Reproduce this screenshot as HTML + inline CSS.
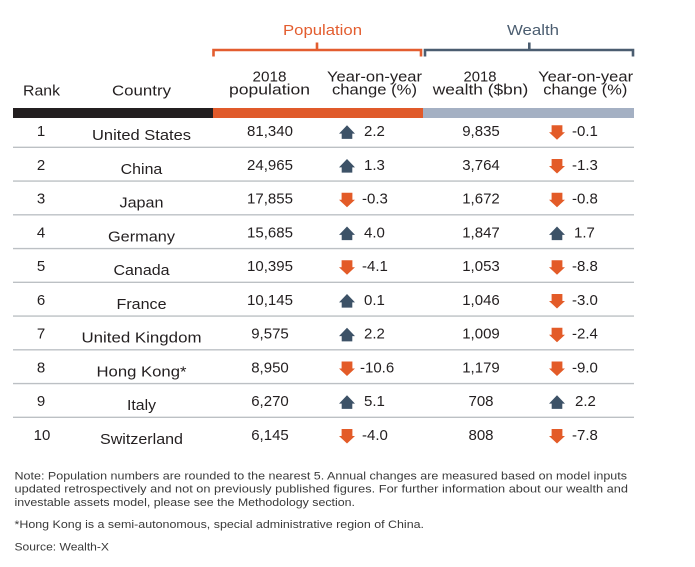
<!DOCTYPE html>
<html><head><meta charset="utf-8"><style>
html,body{margin:0;padding:0;background:#fff;}
svg{display:block;}
text{font-family:"Liberation Sans",Arial,sans-serif;}
.h{font-size:15px;fill:#231f20;}
.t{font-size:15px;fill:#231f20;}
.n{font-size:11px;fill:#3a3a3a;}
</style></head><body>
<svg width="695" height="567" viewBox="0 0 695 567" xmlns="http://www.w3.org/2000/svg">
<rect width="695" height="567" fill="#fff"/>
<!-- group labels -->
<text class="h" x="322.5" y="35" text-anchor="middle" textLength="79" lengthAdjust="spacingAndGlyphs" style="fill:#e35d2f">Population</text>
<text class="h" x="533" y="35" text-anchor="middle" textLength="52" lengthAdjust="spacingAndGlyphs" style="fill:#4b5d70">Wealth</text>
<!-- brackets -->
<path d="M213.5,56.5 V50 H421 V56.5 M317,50 V42.5" fill="none" stroke="#e35d2f" stroke-width="2.6"/>
<path d="M425,56.5 V50 H633 V56.5 M529.3,50 V42.5" fill="none" stroke="#4b5d70" stroke-width="2.6"/>
<!-- headers -->
<text class="h" x="41.5" y="95.3" text-anchor="middle" textLength="37" lengthAdjust="spacingAndGlyphs">Rank</text>
<text class="h" x="141.5" y="95.3" text-anchor="middle" textLength="59" lengthAdjust="spacingAndGlyphs">Country</text>
<text class="h" x="269.5" y="81.5" text-anchor="middle" textLength="34" lengthAdjust="spacingAndGlyphs">2018</text>
<text class="h" x="269.5" y="94.5" text-anchor="middle" textLength="81" lengthAdjust="spacingAndGlyphs">population</text>
<text class="h" x="374.5" y="81.5" text-anchor="middle" textLength="95" lengthAdjust="spacingAndGlyphs">Year-on-year</text>
<text class="h" x="374.5" y="94.5" text-anchor="middle" textLength="85" lengthAdjust="spacingAndGlyphs">change (%)</text>
<text class="h" x="480" y="81.5" text-anchor="middle" textLength="33" lengthAdjust="spacingAndGlyphs">2018</text>
<text class="h" x="480.5" y="94.5" text-anchor="middle" textLength="95.5" lengthAdjust="spacingAndGlyphs">wealth ($bn)</text>
<text class="h" x="585.6" y="81.5" text-anchor="middle" textLength="95" lengthAdjust="spacingAndGlyphs">Year-on-year</text>
<text class="h" x="585.3" y="94.5" text-anchor="middle" textLength="84" lengthAdjust="spacingAndGlyphs">change (%)</text>
<!-- header bar -->
<rect x="13" y="108" width="200" height="10" fill="#231f20"/>
<rect x="213" y="108" width="210" height="10" fill="#e05a2a"/>
<rect x="423" y="108" width="211" height="10" fill="#a4b0c3"/>
<!-- separators -->
<g stroke="#bcc0c4" stroke-width="1.3">
<line x1="13" x2="634" y1="147.3" y2="147.3"/>
<line x1="13" x2="634" y1="181.05" y2="181.05"/>
<line x1="13" x2="634" y1="214.8" y2="214.8"/>
<line x1="13" x2="634" y1="248.55" y2="248.55"/>
<line x1="13" x2="634" y1="282.3" y2="282.3"/>
<line x1="13" x2="634" y1="316.05" y2="316.05"/>
<line x1="13" x2="634" y1="349.8" y2="349.8"/>
<line x1="13" x2="634" y1="383.55" y2="383.55"/>
<line x1="13" x2="634" y1="417.3" y2="417.3"/>
</g>
<defs>
<path id="up" d="M0,-7 L8,1.3 L5.3,1.3 L5.3,6.6 L-5.3,6.6 L-5.3,1.3 L-8,1.3 Z" fill="#3d5267"/>
<path id="dn" d="M-5.4,-7 L5.4,-7 L5.4,0 L8,0 L0,7.5 L-8,0 L-5.4,0 Z" fill="#e35b28"/>
</defs>
<!-- rows -->
<g>
<g transform="translate(0,0)">
<text class="t" x="41" y="136.2" text-anchor="middle">1</text>
<text class="t" x="141.5" y="140" text-anchor="middle" textLength="99" lengthAdjust="spacingAndGlyphs">United States</text>
<text class="t" x="270" y="136.2" text-anchor="middle">81,340</text>
<use href="#up" x="347" y="132.3"/>
<text class="t" x="364" y="136.2">2.2</text>
<text class="t" x="481" y="136.2" text-anchor="middle">9,835</text>
<use href="#dn" x="557" y="132.3"/>
<text class="t" x="572" y="136.2">-0.1</text>
</g>
<g transform="translate(0,33.75)">
<text class="t" x="41" y="136.2" text-anchor="middle">2</text>
<text class="t" x="141.5" y="140" text-anchor="middle" textLength="41.6" lengthAdjust="spacingAndGlyphs">China</text>
<text class="t" x="270" y="136.2" text-anchor="middle">24,965</text>
<use href="#up" x="347" y="132.3"/>
<text class="t" x="364" y="136.2">1.3</text>
<text class="t" x="481" y="136.2" text-anchor="middle">3,764</text>
<use href="#dn" x="557" y="132.3"/>
<text class="t" x="572" y="136.2">-1.3</text>
</g>
<g transform="translate(0,67.5)">
<text class="t" x="41" y="136.2" text-anchor="middle">3</text>
<text class="t" x="141.5" y="140" text-anchor="middle" textLength="44" lengthAdjust="spacingAndGlyphs">Japan</text>
<text class="t" x="270" y="136.2" text-anchor="middle">17,855</text>
<use href="#dn" x="347" y="132.3"/>
<text class="t" x="362" y="136.2">-0.3</text>
<text class="t" x="481" y="136.2" text-anchor="middle">1,672</text>
<use href="#dn" x="557" y="132.3"/>
<text class="t" x="572" y="136.2">-0.8</text>
</g>
<g transform="translate(0,101.25)">
<text class="t" x="41" y="136.2" text-anchor="middle">4</text>
<text class="t" x="141.5" y="140" text-anchor="middle" textLength="67" lengthAdjust="spacingAndGlyphs">Germany</text>
<text class="t" x="270" y="136.2" text-anchor="middle">15,685</text>
<use href="#up" x="347" y="132.3"/>
<text class="t" x="364" y="136.2">4.0</text>
<text class="t" x="481" y="136.2" text-anchor="middle">1,847</text>
<use href="#up" x="557" y="132.3"/>
<text class="t" x="574" y="136.2">1.7</text>
</g>
<g transform="translate(0,135)">
<text class="t" x="41" y="136.2" text-anchor="middle">5</text>
<text class="t" x="141.5" y="140" text-anchor="middle" textLength="56" lengthAdjust="spacingAndGlyphs">Canada</text>
<text class="t" x="270" y="136.2" text-anchor="middle">10,395</text>
<use href="#dn" x="347" y="132.3"/>
<text class="t" x="362" y="136.2">-4.1</text>
<text class="t" x="481" y="136.2" text-anchor="middle">1,053</text>
<use href="#dn" x="557" y="132.3"/>
<text class="t" x="572" y="136.2">-8.8</text>
</g>
<g transform="translate(0,168.75)">
<text class="t" x="41" y="136.2" text-anchor="middle">6</text>
<text class="t" x="141.5" y="140" text-anchor="middle" textLength="50" lengthAdjust="spacingAndGlyphs">France</text>
<text class="t" x="270" y="136.2" text-anchor="middle">10,145</text>
<use href="#up" x="347" y="132.3"/>
<text class="t" x="364" y="136.2">0.1</text>
<text class="t" x="481" y="136.2" text-anchor="middle">1,046</text>
<use href="#dn" x="557" y="132.3"/>
<text class="t" x="572" y="136.2">-3.0</text>
</g>
<g transform="translate(0,202.5)">
<text class="t" x="41" y="136.2" text-anchor="middle">7</text>
<text class="t" x="141.5" y="140" text-anchor="middle" textLength="120" lengthAdjust="spacingAndGlyphs">United Kingdom</text>
<text class="t" x="270" y="136.2" text-anchor="middle">9,575</text>
<use href="#up" x="347" y="132.3"/>
<text class="t" x="364" y="136.2">2.2</text>
<text class="t" x="481" y="136.2" text-anchor="middle">1,009</text>
<use href="#dn" x="557" y="132.3"/>
<text class="t" x="572" y="136.2">-2.4</text>
</g>
<g transform="translate(0,236.25)">
<text class="t" x="41" y="136.2" text-anchor="middle">8</text>
<text class="t" x="141.5" y="140" text-anchor="middle" textLength="90" lengthAdjust="spacingAndGlyphs">Hong Kong*</text>
<text class="t" x="270" y="136.2" text-anchor="middle">8,950</text>
<use href="#dn" x="347" y="132.3"/>
<text class="t" x="360" y="136.2">-10.6</text>
<text class="t" x="481" y="136.2" text-anchor="middle">1,179</text>
<use href="#dn" x="557" y="132.3"/>
<text class="t" x="572" y="136.2">-9.0</text>
</g>
<g transform="translate(0,270)">
<text class="t" x="41" y="136.2" text-anchor="middle">9</text>
<text class="t" x="141.5" y="140" text-anchor="middle" textLength="29" lengthAdjust="spacingAndGlyphs">Italy</text>
<text class="t" x="270" y="136.2" text-anchor="middle">6,270</text>
<use href="#up" x="347" y="132.3"/>
<text class="t" x="364" y="136.2">5.1</text>
<text class="t" x="481" y="136.2" text-anchor="middle">708</text>
<use href="#up" x="557" y="132.3"/>
<text class="t" x="575" y="136.2">2.2</text>
</g>
<g transform="translate(0,303.75)">
<text class="t" x="42" y="136.2" text-anchor="middle">10</text>
<text class="t" x="141.5" y="140" text-anchor="middle" textLength="83" lengthAdjust="spacingAndGlyphs">Switzerland</text>
<text class="t" x="270" y="136.2" text-anchor="middle">6,145</text>
<use href="#dn" x="347" y="132.3"/>
<text class="t" x="362" y="136.2">-4.0</text>
<text class="t" x="481" y="136.2" text-anchor="middle">808</text>
<use href="#dn" x="557" y="132.3"/>
<text class="t" x="572" y="136.2">-7.8</text>
</g>
</g>
<!-- notes -->
<text class="n" x="14.5" y="479.3" textLength="612.5" lengthAdjust="spacingAndGlyphs">Note: Population numbers are rounded to the nearest 5. Annual changes are measured based on model inputs</text>
<text class="n" x="14.5" y="492.7" textLength="613.5" lengthAdjust="spacingAndGlyphs">updated retrospectively and not on previously published figures. For further information about our wealth and</text>
<text class="n" x="14.5" y="506" textLength="340.5" lengthAdjust="spacingAndGlyphs">investable assets model, please see the Methodology section.</text>
<text class="n" x="14.5" y="528" textLength="409.5" lengthAdjust="spacingAndGlyphs">*Hong Kong is a semi-autonomous, special administrative region of China.</text>
<text class="n" x="14.5" y="550.7" textLength="94.5" lengthAdjust="spacingAndGlyphs">Source: Wealth-X</text>
</svg>
</body></html>
